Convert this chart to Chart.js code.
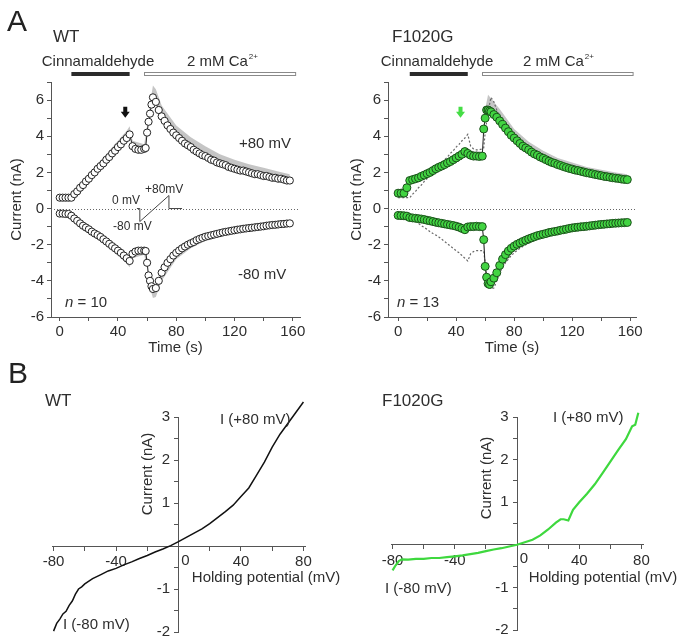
<!DOCTYPE html>
<html>
<head>
<meta charset="utf-8">
<script src="https://cdn.jsdelivr.net/npm/chart.js@4.4.1/dist/chart.umd.min.js"></script>
<style>
    body { margin: 0; background: #fff; }
    #fig { position: relative; width: 679px; height: 637px; overflow: hidden; }
    canvas { position: absolute; }
</style>
</head>
<body>
<div id="fig">
    <canvas id="wtTime" width="340" height="360" style="left:0;top:0"></canvas>
    <canvas id="mutTime" width="339" height="360" style="left:340px;top:0"></canvas>
    <canvas id="wtIV" width="340" height="277" style="left:0;top:360px"></canvas>
    <canvas id="mutIV" width="339" height="277" style="left:340px;top:360px"></canvas>
</div>
<script>
// ---- data (A: current vs time, B: I-V ramps) ----
const timeS = [0,2,4,6,8,10,12,14,16,18,20,22,24,26,28,30,32,34,36,38,40,42,44,46,48,50,52,54,56,58,
    59,60,61,62,63,
    64,66,68,70,72,74,76,78,80,82,84,86,88,90,92,94,96,98,100,102,104,106,108,110,112,114,116,118,120,122,
    124,126,128,130,132,134,136,138,140,142,144,146,148,150,152,154,156,158];

const wtPlus80 = [0.6,0.6,0.6,0.6,0.6,0.8,0.95,1.15,1.3,1.5,1.65,1.85,2.0,2.2,2.35,2.5,2.7,2.85,3.05,3.2,
    3.4,3.55,3.75,3.9,4.1,3.45,3.3,3.25,3.25,3.3,
    3.35,4.2,4.8,5.25,5.75,
    6.15,5.9,5.45,5.1,4.85,4.6,4.4,4.2,4.05,3.9,3.75,3.6,3.5,3.4,3.25,3.15,3.05,2.95,2.9,2.8,
    2.7,2.65,2.55,2.5,2.45,2.4,2.3,2.25,2.2,2.15,2.1,2.1,2.05,2.0,1.95,1.9,1.9,1.85,1.8,1.8,
    1.75,1.7,1.7,1.65,1.65,1.6,1.55,1.55];
const wtMinus80 = [-0.28,-0.28,-0.3,-0.3,-0.4,-0.55,-0.68,-0.82,-0.95,-1.05,-1.15,-1.28,-1.38,-1.47,-1.57,
    -1.7,-1.82,-1.95,-2.08,-2.2,-2.33,-2.45,-2.6,-2.75,-2.9,-2.5,-2.38,-2.33,-2.33,-2.33,
    -2.35,-3.0,-3.7,-4.0,-4.3,
    -4.45,-4.4,-4.0,-3.55,-3.25,-3.0,-2.8,-2.6,-2.45,-2.32,-2.2,-2.1,-2.0,-1.92,-1.85,-1.75,-1.68,-1.62,-1.56,-1.52,
    -1.48,-1.44,-1.4,-1.36,-1.32,-1.29,-1.26,-1.23,-1.2,-1.17,-1.15,-1.12,-1.1,-1.08,-1.06,-1.04,-1.02,-1.0,-0.98,-0.95,
    -0.93,-0.91,-0.9,-0.88,-0.86,-0.85,-0.83,-0.82];
const mutPlus80 = [0.85,0.85,0.85,1.15,1.55,1.6,1.65,1.7,1.78,1.85,1.93,2.0,2.1,2.2,2.28,2.35,2.43,2.52,2.6,2.7,
    2.8,2.9,3.0,3.15,3.05,2.95,2.9,2.9,2.88,2.9,
    4.4,5.0,5.45,5.45,5.4,
    5.35,5.2,5.05,4.85,4.65,4.45,4.25,4.05,3.9,3.75,3.6,3.45,3.35,3.25,3.12,3.02,2.95,2.85,2.78,2.7,
    2.62,2.55,2.5,2.43,2.38,2.32,2.27,2.22,2.18,2.13,2.1,2.06,2.02,1.98,1.95,1.92,1.88,1.85,1.82,1.78,
    1.76,1.73,1.7,1.68,1.66,1.63,1.61,1.6];
const mutMinus80 = [-0.38,-0.39,-0.4,-0.42,-0.5,-0.52,-0.54,-0.56,-0.58,-0.61,-0.65,-0.68,-0.72,-0.76,-0.79,
    -0.82,-0.85,-0.88,-0.91,-0.94,-0.98,-1.03,-1.1,-1.17,-1.02,-1.0,-1.0,-0.98,-1.0,-1.0,
    -1.72,-3.2,-3.8,-4.15,-4.2,
    -4.05,-3.85,-3.55,-3.15,-2.8,-2.55,-2.35,-2.2,-2.08,-1.98,-1.9,-1.82,-1.75,-1.68,-1.62,-1.56,-1.5,-1.46,-1.42,-1.38,
    -1.33,-1.3,-1.27,-1.24,-1.2,-1.17,-1.14,-1.1,-1.07,-1.05,-1.03,-1.01,-1.0,-0.98,-0.96,-0.94,-0.92,-0.9,-0.88,-0.87,
    -0.85,-0.84,-0.82,-0.81,-0.8,-0.79,-0.78,-0.77];

// edge of the SEM band (mean + SEM for +80 mV, mean - SEM for -80 mV)
const semTime = [0,6,8,16,24,32,40,46,48,50,58,60,62,64,66,70,80,90,100,110,120,130,140,150,158];
const wtPlus80Sem = [0.75,0.75,0.75,1.55,2.3,3.0,3.75,4.3,4.55,3.75,3.55,4.6,5.8,6.8,6.6,5.7,4.6,3.95,3.45,3.0,2.7,2.45,2.25,2.05,1.9];
const wtMinus80Sem = [-0.4,-0.4,-0.5,-1.15,-1.6,-2.05,-2.6,-3.05,-3.25,-2.75,-2.55,-3.3,-4.4,-4.95,-4.9,-4.0,-2.8,-2.2,-1.8,-1.55,-1.35,-1.2,-1.1,-1.0,-0.95];
const mutPlus80Sem = [1.0,1.3,1.75,2.0,2.35,2.7,3.05,3.4,3.35,3.2,3.15,5.5,6.3,6.1,5.9,5.5,4.4,3.7,3.2,2.8,2.55,2.3,2.15,2.0,1.9];
const mutMinus80Sem = [-0.5,-0.55,-0.65,-0.7,-0.85,-0.95,-1.1,-1.3,-1.15,-1.1,-1.1,-3.5,-4.45,-4.45,-4.2,-3.5,-2.3,-1.85,-1.55,-1.35,-1.2,-1.08,-1.0,-0.92,-0.88];

const cinnamaldehydeOn = [8, 48];
const calciumOn = [58, 162];

// voltage protocol inset (time s, drawn level)
const protocolTime = [53, 55, 55, 75, 75, 84];
const protocolLevel = [0, 0, -0.72, 0.72, 0, 0];

const wtVm = [-80,-78,-76,-74,-72,-70,-68,-66,-64,-62,-60,-55,-50,-45,-40,-35,-30,-25,-20,-15,-10,-5,
    0,5,10,15,20,25,30,35,40,45,50,55,60,65,70,75,80];
const wtIV = [-1.98,-1.8,-1.7,-1.58,-1.52,-1.38,-1.28,-1.12,-1.0,-0.95,-0.88,-0.76,-0.67,-0.58,-0.52,-0.44,
    -0.37,-0.29,-0.22,-0.14,-0.07,0.01,
    0.1,0.2,0.3,0.4,0.52,0.66,0.8,0.95,1.15,1.35,1.65,1.95,2.3,2.6,2.85,3.1,3.35];
const mutVm = [-80,-78,-76,-74,-70,-65,-60,-55,-50,-45,-40,-35,-30,-25,-20,-15,-10,-5,
    0,5,10,15,20,25,28,30,33,36,40,45,50,55,60,65,70,74,76,78];
const mutIV = [-0.6,-0.48,-0.38,-0.34,-0.35,-0.33,-0.33,-0.31,-0.31,-0.29,-0.27,-0.25,-0.22,-0.19,-0.15,
    -0.11,-0.08,-0.04,
    0.0,0.06,0.12,0.22,0.36,0.52,0.6,0.6,0.57,0.82,1.0,1.2,1.42,1.68,1.95,2.22,2.48,2.78,2.82,3.1];

// ---- helpers ----
const FONT = '"Liberation Sans", Arial, sans-serif';
const INK = '#2e2e2e';
const AXIS = '#555';

function pts(xs, ys) {
    return xs.map(function(x, i) { return {x: x, y: ys[i]}; });
}

function txt(ctx, s, x, y, size, o) {
    o = o || {};
    ctx.save();
    ctx.font = (o.style || '') + ' ' + size + 'px ' + FONT;
    ctx.fillStyle = o.color || INK;
    ctx.textAlign = o.align || 'left';
    ctx.textBaseline = o.baseline || 'middle';
    if (o.rotate) {
        ctx.translate(x, y);
        ctx.rotate(o.rotate);
        ctx.fillText(s, 0, 0);
    } else {
        ctx.fillText(s, x, y);
    }
    const w = ctx.measureText(s).width;
    ctx.restore();
    return w;
}

function nLabel(ctx, n, x, y) {
    const w = txt(ctx, 'n', x, y, 15, {style: 'italic'});
    txt(ctx, ' = ' + n, x + w, y, 15);
}

function caLabel(ctx, x, y) {
    const w = txt(ctx, '2 mM Ca', x, y, 15);
    txt(ctx, '2+', x + w + 1, y - 5, 8);
}

function downArrow(ctx, cx, cy, color) {
    ctx.save();
    ctx.fillStyle = color;
    ctx.beginPath();
    ctx.moveTo(cx - 2, cy - 6);
    ctx.lineTo(cx + 2, cy - 6);
    ctx.lineTo(cx + 2, cy - 1);
    ctx.lineTo(cx + 4.5, cy - 1);
    ctx.lineTo(cx, cy + 5);
    ctx.lineTo(cx - 4.5, cy - 1);
    ctx.lineTo(cx - 2, cy - 1);
    ctx.closePath();
    ctx.fill();
    ctx.restore();
}

function tickFont() {
    return {family: FONT, size: 15};
}

// ---- panel A: current vs time ----
function timeDecor(p) {
    return {
        id: 'timeDecor',
        beforeDatasetsDraw: function(chart) {
            const ctx = chart.ctx, a = chart.chartArea;
            const y0 = Math.round(chart.scales.y.getPixelForValue(0)) + 0.5;
            ctx.save();
            ctx.strokeStyle = '#666';
            ctx.lineWidth = 1;
            ctx.setLineDash([1, 2]);
            ctx.beginPath();
            ctx.moveTo(a.left, y0);
            ctx.lineTo(a.right, y0);
            ctx.stroke();
            ctx.restore();
        },
        afterDraw: function(chart) {
            const ctx = chart.ctx, x = chart.scales.x, y = chart.scales.y;
            // application bars
            const c0 = x.getPixelForValue(cinnamaldehydeOn[0]), c1 = x.getPixelForValue(cinnamaldehydeOn[1]);
            ctx.fillStyle = '#2b2b2b';
            ctx.fillRect(c0, 72, c1 - c0, 4);
            const k0 = Math.round(x.getPixelForValue(calciumOn[0])) + 0.5, k1 = x.getPixelForValue(calciumOn[1]);
            ctx.fillStyle = '#fff';
            ctx.strokeStyle = '#8a8a8a';
            ctx.lineWidth = 1;
            ctx.fillRect(k0, 72.5, k1 - k0, 3);
            ctx.strokeRect(k0, 72.5, k1 - k0, 3);

            if (p.letter) txt(ctx, p.letter, 7, 23, 30, {color: '#222'});
            txt(ctx, p.name, p.nameX, 37, 17);
            txt(ctx, 'Cinnamaldehyde', p.cinnX, 62, 15, {align: 'center'});
            caLabel(ctx, p.caX, 62);
            nLabel(ctx, p.n, p.nX, 303);
            downArrow(ctx, x.getPixelForValue(p.arrowAt[0]), y.getPixelForValue(p.arrowAt[1]), p.arrowColor);
            if (p.extra) p.extra(ctx, x, y);
        }
    };
}

function timePanel(id, p) {
    const datasets = [
        {
            data: pts(timeS, p.plus), order: 0,
            borderColor: '#222', borderWidth: 1,
            pointRadius: p.radius, pointBackgroundColor: p.fill, pointBorderColor: p.edge, pointBorderWidth: 1
        },
        {
            data: pts(timeS, p.minus), order: 0,
            borderColor: '#222', borderWidth: 1,
            pointRadius: p.radius, pointBackgroundColor: p.fill, pointBorderColor: p.edge, pointBorderWidth: 1
        },
        {
            data: pts(semTime, p.plusSem), order: 3, fill: 0,
            borderWidth: 0, borderColor: 'rgba(0,0,0,0)', pointRadius: 0,
            backgroundColor: 'rgba(150,150,150,0.55)'
        },
        {
            data: pts(semTime, p.minusSem), order: 3, fill: 1,
            borderWidth: 0, borderColor: 'rgba(0,0,0,0)', pointRadius: 0,
            backgroundColor: 'rgba(150,150,150,0.55)'
        }
    ];
    (p.overlay || []).forEach(function(vals) {
        datasets.push({
            data: pts(timeS, vals), order: 2,
            borderColor: '#6a6a6a', borderWidth: 1.2, borderDash: [2, 2], pointRadius: 0
        });
    });

    return new Chart(document.getElementById(id).getContext('2d'), {
        type: 'line',
        data: {datasets: datasets},
        options: {
            responsive: false,
            animation: false,
            events: [],
            layout: {padding: {top: 82, right: p.padRight, left: 0, bottom: 0}},
            plugins: {legend: {display: false}, tooltip: {enabled: false}},
            scales: {
                x: {
                    type: 'linear', min: p.xMin, max: p.xMax,
                    afterFit: function(s) { s.height = 43; },
                    border: {color: AXIS},
                    grid: {drawOnChartArea: false, tickLength: 4, color: AXIS},
                    ticks: {
                        stepSize: 20, includeBounds: false, autoSkip: false, maxRotation: 0, padding: 2,
                        color: INK, font: tickFont(),
                        callback: function(v) { return v % 40 === 0 ? v : ''; }
                    },
                    title: {display: true, text: 'Time (s)', color: INK, font: tickFont(), padding: {top: 0, bottom: 3}}
                },
                y: {
                    min: -6, max: 7,
                    afterFit: function(s) { s.width = p.yWidth; },
                    border: {color: AXIS},
                    grid: {drawOnChartArea: false, tickLength: 4, color: AXIS},
                    ticks: {
                        stepSize: 1, autoSkip: false, padding: 3, color: INK, font: tickFont(),
                        callback: function(v) { return v % 2 === 0 ? v : ''; }
                    },
                    title: {display: true, text: 'Current (nA)', color: INK, font: tickFont(), padding: {top: 8, bottom: 0}}
                }
            }
        },
        plugins: [timeDecor(p)]
    });
}

timePanel('wtTime', {
    letter: 'A', name: 'WT', nameX: 53, cinnX: 98, caX: 187, n: '10', nX: 65,
    plus: wtPlus80, minus: wtMinus80, plusSem: wtPlus80Sem, minusSem: wtMinus80Sem,
    radius: 3.6, fill: '#fff', edge: '#222',
    arrowAt: [45, 5.3], arrowColor: '#111',
    xMin: -6, xMax: 165, padRight: 40, yWidth: 51,
    extra: function(ctx, x, y) {
        txt(ctx, '+80 mV', 239, 144, 15);
        txt(ctx, '-80 mV', 238, 275, 15);
        ctx.save();
        ctx.strokeStyle = '#444';
        ctx.lineWidth = 1;
        ctx.beginPath();
        protocolTime.forEach(function(t, i) {
            const px = x.getPixelForValue(t), py = y.getPixelForValue(protocolLevel[i]);
            if (i === 0) ctx.moveTo(px, py); else ctx.lineTo(px, py);
        });
        ctx.stroke();
        ctx.restore();
        txt(ctx, '0 mV', 140, 201, 12, {align: 'right'});
        txt(ctx, '+80mV', 145, 190, 12);
        txt(ctx, '-80 mV', 113, 227, 12);
    }
});

timePanel('mutTime', {
    name: 'F1020G', nameX: 52, cinnX: 97, caX: 183, n: '13', nX: 57,
    plus: mutPlus80, minus: mutMinus80, plusSem: mutPlus80Sem, minusSem: mutMinus80Sem,
    overlay: [wtPlus80, wtMinus80],
    radius: 4, fill: '#42d442', edge: '#1a4f1a',
    arrowAt: [43, 5.3], arrowColor: '#45dd45',
    xMin: -7, xMax: 164, padRight: 43, yWidth: 48
});

// ---- panel B: I-V relationship ----
function ivDecor(p) {
    return {
        id: 'ivDecor',
        afterDraw: function(chart) {
            const ctx = chart.ctx, x = chart.scales.x, y = chart.scales.y;
            const ax = x.getPixelForValue(0), ay = y.getPixelForValue(0);
            txt(ctx, '0', ax + 7, ay + 7, 15, {align: 'center', baseline: 'top'});
            if (p.letter) txt(ctx, p.letter, 8, 15, 30, {color: '#222'});
            txt(ctx, p.name, p.nameX, 41, 17);
            txt(ctx, 'Current (nA)', p.yTitle[0], p.yTitle[1], 15, {align: 'center', rotate: -Math.PI / 2});
            txt(ctx, 'Holding potential (mV)', p.xTitle[0], p.xTitle[1], 15, {align: 'center'});
            txt(ctx, 'I (+80 mV)', p.hiLabel[0], p.hiLabel[1], 15);
            txt(ctx, 'I (-80 mV)', p.loLabel[0], p.loLabel[1], 15);
        }
    };
}

function noPad(s) {
    s.paddingTop = 0;
    s.paddingBottom = 0;
    s.paddingLeft = 0;
    s.paddingRight = 0;
}

function ivPanel(id, p) {
    return new Chart(document.getElementById(id).getContext('2d'), {
        type: 'line',
        data: {
            datasets: [{
                data: pts(p.vm, p.current),
                borderColor: p.color, borderWidth: p.width, pointRadius: 0, clip: false
            }]
        },
        options: {
            responsive: false,
            animation: false,
            events: [],
            layout: {padding: {top: 57, left: p.padLeft, right: p.padRight, bottom: p.padBottom}},
            plugins: {legend: {display: false}, tooltip: {enabled: false}},
            scales: {
                x: {
                    type: 'linear', position: {y: 0}, min: -81, max: 81,
                    afterFit: noPad,
                    border: {color: AXIS},
                    grid: {drawOnChartArea: false, tickLength: 4, color: AXIS},
                    ticks: {
                        stepSize: 20, includeBounds: false, autoSkip: false, maxRotation: 0, padding: 3,
                        color: INK, font: tickFont(),
                        callback: function(v) { return (v % 40 === 0 && v !== 0) ? v : ''; }
                    }
                },
                y: {
                    position: {x: 0}, min: -2, max: 3,
                    afterFit: noPad,
                    border: {color: AXIS},
                    grid: {drawOnChartArea: false, tickLength: 4, color: AXIS},
                    ticks: {
                        stepSize: 0.5, autoSkip: false, padding: 3, color: INK, font: tickFont(),
                        // centred axis: labels sit right-aligned on the axis, so pad them off it
                        callback: function(v) { return (Number.isInteger(v) && v !== 0) ? v + '  ' : ''; }
                    }
                }
            }
        },
        plugins: [ivDecor(p)]
    });
}

ivPanel('wtIV', {
    letter: 'B', name: 'WT', nameX: 45,
    vm: wtVm, current: wtIV, color: '#111', width: 1.5,
    padLeft: 52, padRight: 35, padBottom: 5,
    yTitle: [148, 114], xTitle: [266, 218], hiLabel: [220, 60], loLabel: [63, 265]
});

ivPanel('mutIV', {
    name: 'F1020G', nameX: 42,
    vm: mutVm, current: mutIV, color: '#3ed83e', width: 2.2,
    padLeft: 51, padRight: 36, padBottom: 7,
    yTitle: [147, 118], xTitle: [263, 218], hiLabel: [213, 58], loLabel: [45, 229]
});
</script>
</body>
</html>
